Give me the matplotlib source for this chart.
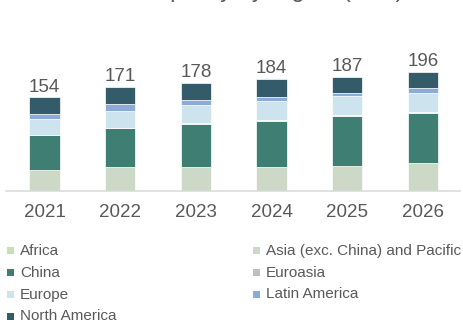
import matplotlib
matplotlib.use("Agg")
import matplotlib.pyplot as plt
from matplotlib.patches import Rectangle
import numpy as np

plt.rcParams['font.family'] = ['Liberation Sans', 'DejaVu Sans']

years = ["2021", "2022", "2023", "2024", "2025", "2026"]
totals = [154, 171, 178, 184, 187, 196]

africa = [0, 0, 0, 0, 0, 0]
asia_pacific = [33, 38, 39, 39, 41, 45]
china = [59, 65, 71, 75, 82, 83]
euroasia = [0, 0, 2, 2, 2, 2]
europe = [26, 28, 29, 31, 30, 31]
latin_america = [8, 11, 8, 7, 6, 8]
north_america = [28, 29, 29, 30, 26, 27]

series = [
    ("Asia (exc. China) and Pacific", asia_pacific, "#cbd9c6"),
    ("Africa", africa, "#c5e0b4"),
    ("China", china, "#3e7e73"),
    ("Euroasia", euroasia, "#bfbfbf"),
    ("Europe", europe, "#cde3ed"),
    ("Latin America", latin_america, "#8eaadb"),
    ("North America", north_america, "#335b69"),
]
colors = {name: c for name, _, c in series}

W, H = 463, 325
fig = plt.figure(figsize=(W / 100, H / 100), dpi=100)
ax = fig.add_axes([6 / W, 134.5 / H, 454 / W, 190.5 / H])

x = np.arange(len(years))
bottom = np.zeros(len(years))
for name, vals, col in series:
    v = np.array(vals, dtype=float)
    ax.bar(x, v, width=0.4, bottom=bottom, color=col,
           edgecolor="white", linewidth=0.5, zorder=2)
    bottom += v

for xi, t in zip(x, totals):
    ax.annotate(str(t), (xi, t), xytext=(0, 4), textcoords="offset points",
                ha="center", va="baseline", fontsize=13.5, color="#595959")

ax.set_xlim(-0.51, 5.49)
ax.set_ylim(0, 314)
ax.set_xticks(x)
ax.set_xticklabels(years, fontsize=13.5, color="#595959")
ax.tick_params(axis="x", length=0, pad=10)
ax.set_yticks([])
for s in ["top", "left", "right"]:
    ax.spines[s].set_visible(False)
ax.spines["bottom"].set_color("#d9d9d9")
ax.spines["bottom"].set_linewidth(1.1)
ax.patch.set_alpha(0)

# Title sits mostly above the canvas edge
fig.text(139.5 / W, 1 + 3 / H, "Capacity by region (bcm)", fontsize=17,
         color="#595959", ha="left", va="baseline")

# Legend, two columns filled row by row
legend_items = ["Africa", "Asia (exc. China) and Pacific", "China", "Euroasia",
                "Europe", "Latin America", "North America"]
col_x = [7, 253]
row_y = [250.7, 272.7, 294.5, 316.5]
for i, name in enumerate(legend_items):
    cx = col_x[i % 2]
    cy = row_y[i // 2]
    fig.patches.append(Rectangle(((cx) / W, (H - cy - 3.5) / H), 7 / W, 7 / H,
                                 transform=fig.transFigure, facecolor=colors[name],
                                 edgecolor="none"))
    fig.text((cx + 13) / W, (H - cy) / H, name, fontsize=11, color="#595959",
             ha="left", va="center")

fig.savefig("out.png", dpi=100)
